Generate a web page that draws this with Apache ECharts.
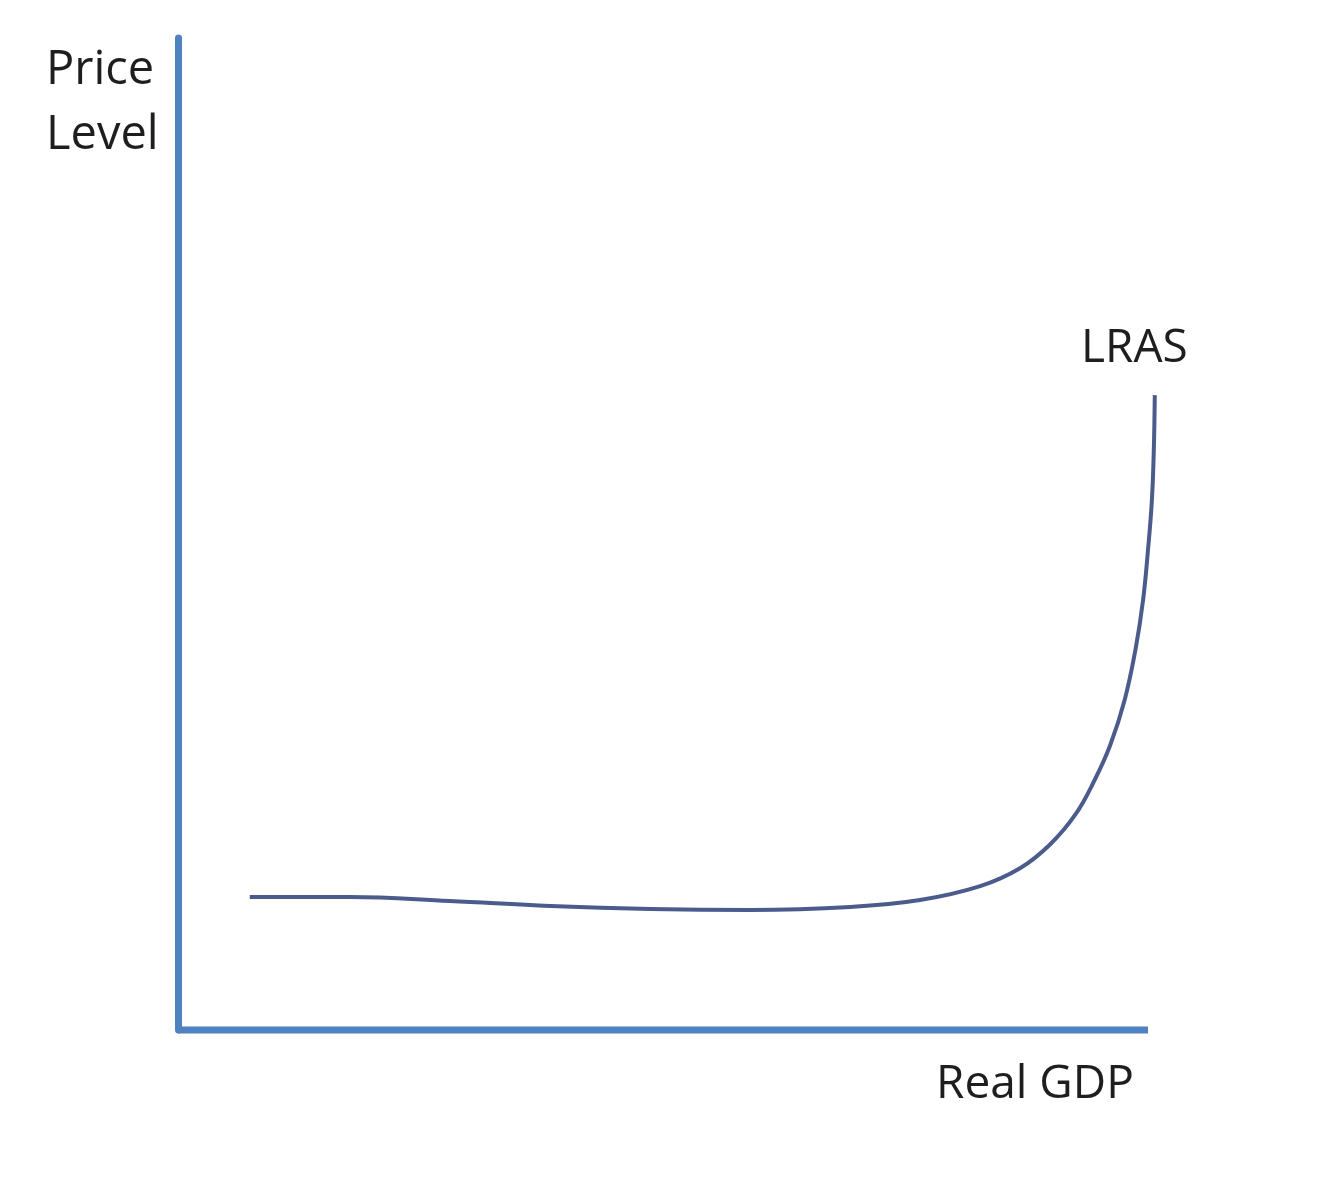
<!DOCTYPE html>
<html>
<head>
<meta charset="utf-8">
<script src="https://cdn.jsdelivr.net/npm/echarts@6/dist/echarts.min.js"></script>
<style>html,body{margin:0;padding:0;background:#fff;}#chart{width:1334px;height:1191px;}</style>
</head>
<body>
<div id="chart"></div>
<script>
// Curve points of the LRAS line (Real GDP, Price Level) in arbitrary units
const gdp =   [7.4, 17.7, 28.0, 38.4, 48.7, 59.0, 69.3, 76.5, 82.7, 86.8, 89.9, 92.5, 94.5, 96.1, 97.6, 98.7, 99.5, 100.0, 100.4, 100.6, 100.7];
const price = [13.4, 13.4, 13.0, 12.5, 12.2, 12.1, 12.4, 13.1, 14.5, 16.3, 18.7, 21.7, 25.2, 28.7, 33.3, 38.3, 43.4, 48.4, 53.4, 58.5, 64.0];
const xAxisEnds = [0, 100];
const yLabel = ['Price', 'Level'];
const xLabel = 'Real GDP';
const curveLabel = 'LRAS';

const chart = echarts.init(document.getElementById('chart'));
const axisColor = '#5082c2';
const font = '"Open Sans", "Noto Sans", sans-serif';
chart.setOption({
  animation: false,
  backgroundColor: '#ffffff',
  grid: { left: 178, top: 38, right: 166.6, bottom: 161 },
  xAxis: {
    type: 'value', min: 0, max: 102,
    axisLine: { show: false },
    axisTick: { show: false }, axisLabel: { show: false }, splitLine: { show: false }
  },
  yAxis: {
    type: 'value', min: 0, max: 100,
    axisLine: { show: true, onZero: false, lineStyle: { color: axisColor, width: 7 } },
    axisTick: { show: false }, axisLabel: { show: false }, splitLine: { show: false }
  },
  series: [{
    type: 'line',
    data: xAxisEnds.map(x => [x, 0]),
    clip: false,
    symbol: 'none',
    lineStyle: { color: axisColor, width: 7, cap: 'butt' },
    z: 3
  }, {
    type: 'line',
    data: gdp.map((g, i) => [g, price[i]]),
    smooth: 0.4,
    clip: false,
    symbol: 'none',
    lineStyle: { color: '#4a5b8c', width: 4 }
  }],
  graphic: [
    { type: 'text', left: 46, top: 38, style: { text: yLabel.join('\n'), font: '47px ' + font, fill: '#1e1e1e', lineHeight: 65 } },
    { type: 'text', left: 1081, top: 326, style: { text: curveLabel, font: '46px ' + font, fill: '#1e1e1e' } },
    { type: 'text', left: 936, top: 1062, style: { text: xLabel, font: '46px ' + font, fill: '#1e1e1e' } }
  ]
});
</script>
</body>
</html>
